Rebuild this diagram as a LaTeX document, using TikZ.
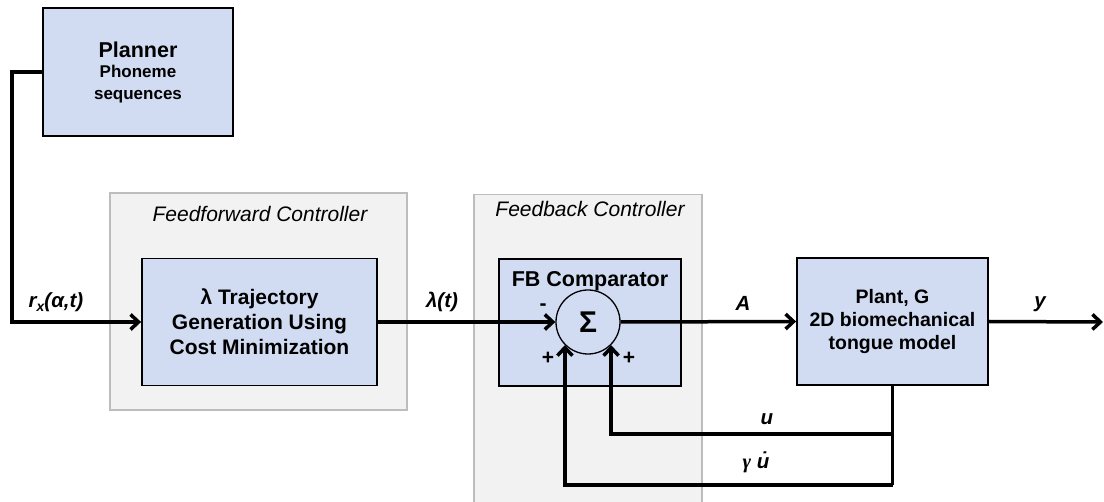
\documentclass[tikz,border=0pt]{standalone}
\usepackage{fontspec}
\setmainfont{Liberation Sans}
\newfontfamily\greekit{Liberation Serif}
\usetikzlibrary{arrows.meta}
\definecolor{boxblue}{HTML}{D1DCF2}
\definecolor{panelgray}{HTML}{F2F2F2}
\definecolor{panelline}{HTML}{BDBDBD}
\begin{document}
\begin{tikzpicture}[x=1pt,y=-1pt,
  bluebox/.style={draw=black, line width=1.8pt, fill=boxblue, inner sep=0pt,
    align=center, font=\bfseries\fontsize{21}{25}\selectfont},
  panel/.style={draw=panelline, line width=1.4pt, fill=panelgray, inner sep=0pt},
  paneltitle/.style={font=\itshape\fontsize{21}{22}\selectfont, inner sep=0pt, anchor=base},
  wire/.style={line width=3.5pt},
  sig/.style={wire, -{Straight Barb[length=8pt,width=15pt]}},
  lbl/.style={font=\bfseries\itshape\fontsize{20.5}{22}\selectfont, inner sep=0pt, anchor=base},
  sign/.style={font=\bfseries\fontsize{21}{22}\selectfont, inner sep=0pt}
]
\useasboundingbox (0,0) rectangle (1104,502);
\clip (0,0) rectangle (1104,502);

% controller panels
\node[panel, minimum width=297pt, minimum height=217pt] (ffpanel) at (258.5,301.5) {};
\node[panel, minimum width=228pt, minimum height=340pt, anchor=north] (fbpanel) at (588,194) {};
\node[paneltitle] (fftitle) at (260,222) {Feedforward Controller};
\node[paneltitle] (fbtitle) at (590,217) {Feedback Controller};

% blocks
\node[bluebox, minimum width=190pt, minimum height=128pt] (planner) at (138,72)
  {{\fontsize{21.5}{22}\selectfont Planner}\\[-5pt]{\fontsize{17}{19}\selectfont Phoneme}\\[-3pt]{\fontsize{17}{19}\selectfont sequences}};
\node[bluebox, minimum width=235pt, minimum height=127pt] (ffbox) at (259.5,322)
  {λ Trajectory\\Generation Using\\Cost Minimization};
\node[bluebox, minimum width=182pt, minimum height=127pt] (fbbox) at (590,322.5) {};
\node[font=\bfseries\fontsize{21.5}{22}\selectfont, inner sep=0pt, anchor=base] (fbtext) at (590,287) {FB Comparator};
\node[circle, draw, line width=1.3pt, minimum size=64pt, inner sep=0pt,
  font=\bfseries\fontsize{30}{30}\selectfont] (sum) at (588,322) {Σ};
\node[bluebox, minimum width=191pt, minimum height=127pt,
  font=\bfseries\fontsize{19.5}{25}\selectfont] (plant) at (892.5,321.5)
  {Plant, G\\[-2pt]2D biomechanical\\[-2pt]tongue model};

% signal routing
\coordinate (bend) at (12,322);
\coordinate (yend) at (1103,322);
\path (plant.south) ++(0,48) coordinate (ubr);
\path (plant.south) ++(0,99) coordinate (gbend);

\draw[sig] (planner.west) -| (bend) -- (ffbox.west);
\draw[sig] (ffbox.east) -- (sum.west);
\draw[sig] (sum.east) -- (plant.west);
\draw[sig] (plant.east) -- (yend);
\draw[wire] (plant.south) -- (gbend);
\draw[sig] (ubr) -| (sum.315);
\draw[sig] (gbend) -| (sum.225);

% signal labels
\node[lbl] (rlab) at (56,308) {r\raisebox{-4pt}{\fontsize{14}{15}\selectfont x}(α,t)};
\node[lbl] (llab) at (442,308) {λ(t)};
\node[lbl] (alab) at (743,311) {A};
\node[lbl] (ylab) at (1040,308) {y};
\node[lbl] (ulab) at (767,425) {u};
\node[lbl] (gulab) at (756,469) {{\greekit\itshape γ} u^^^^0307};

% comparator signs
\node[sign] (minus) at (543,307) {-};
\node[sign] (plusl) at (548,358) {+};
\node[sign] (plusr) at (629,358) {+};
\end{tikzpicture}
\end{document}
